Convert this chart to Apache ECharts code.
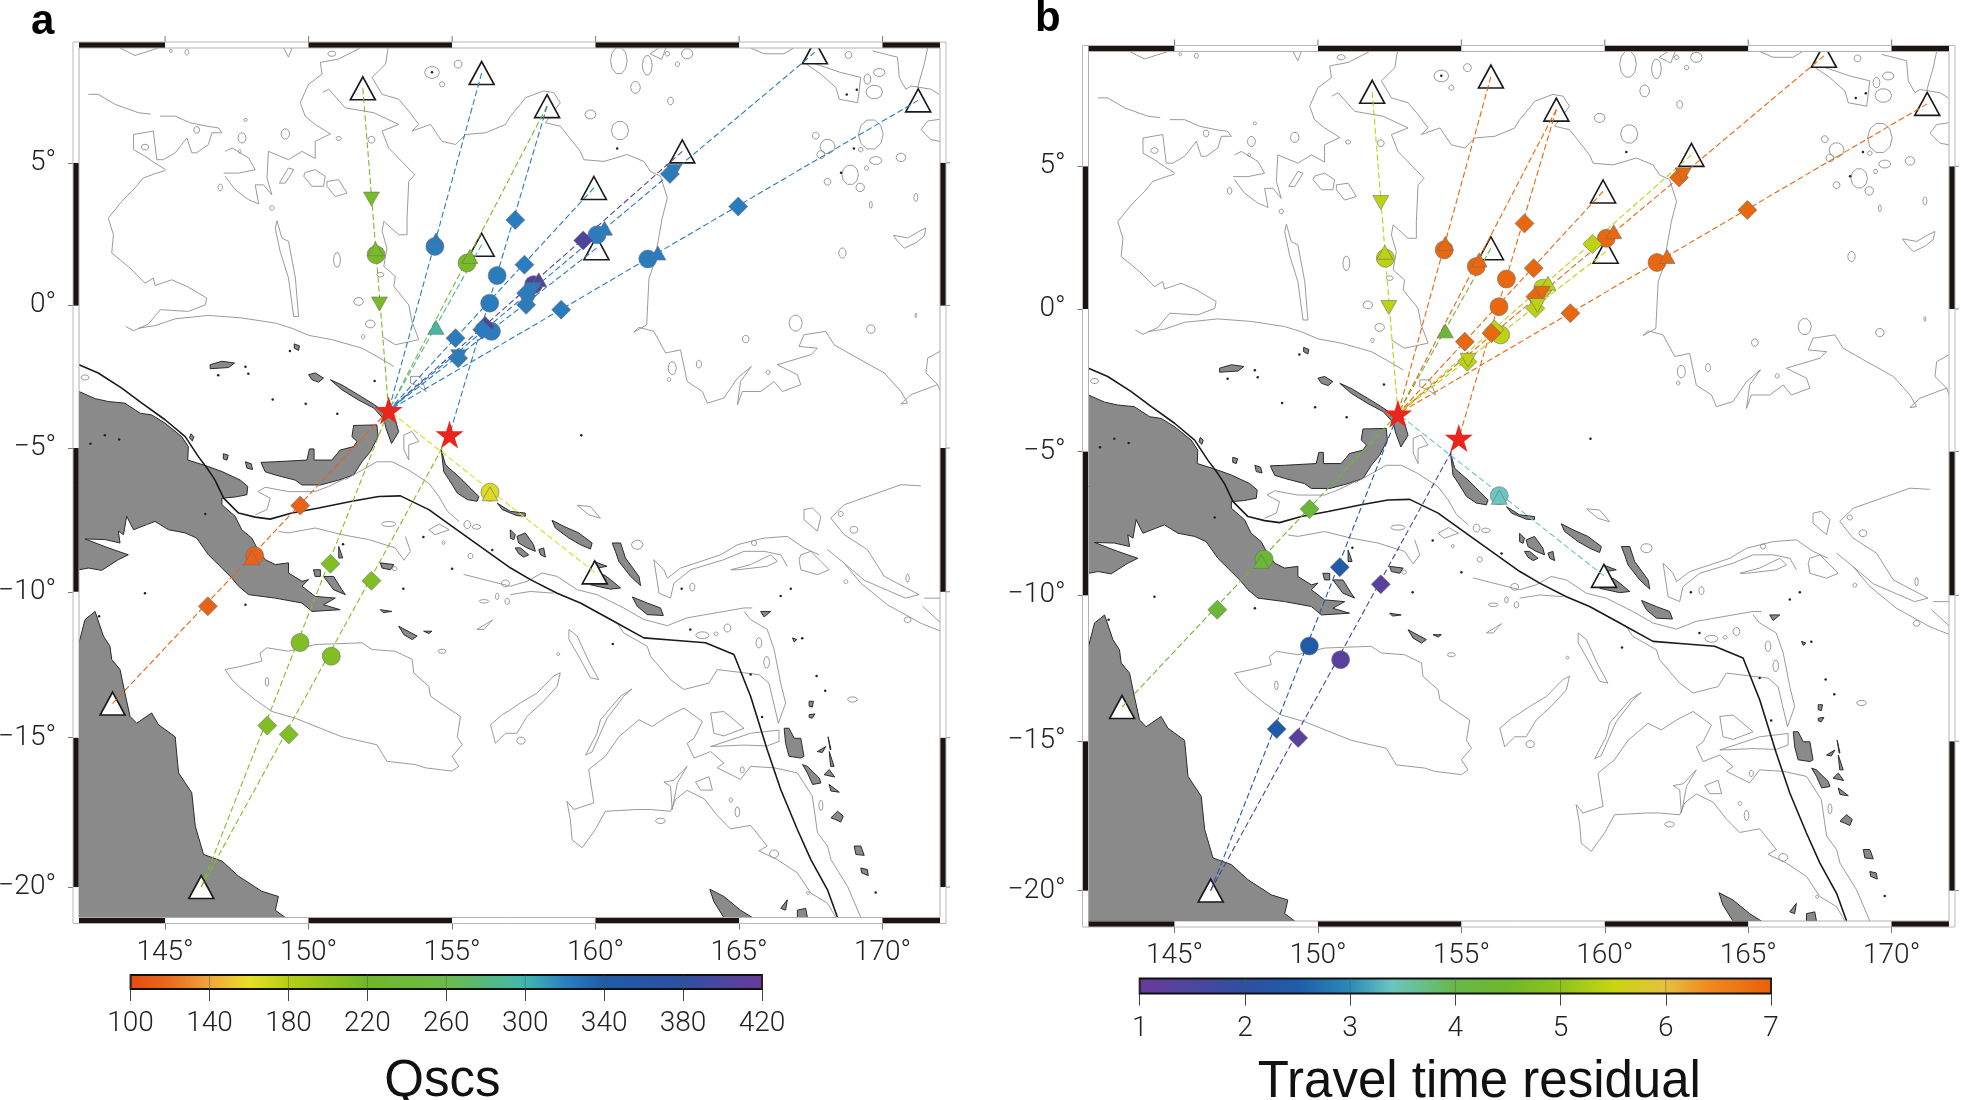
<!DOCTYPE html>
<html><head><meta charset="utf-8">
<style>html,body{margin:0;padding:0;background:#fff}#c{width:1961px;height:1100px}</style>
<script src="https://cdn.jsdelivr.net/npm/echarts@6/dist/echarts.min.js"></script>
</head><body><div id="c"></div>
<script>
// ---- stations and earthquakes (degrees) ----
const stationLon=[151.89,156.03,158.31,163.02,167.64,171.24,159.94,156.03,160.03,159.97,143.17,146.26];
const stationLat=[7.6,8.13,6.98,5.4,8.85,7.18,4.12,2.13,2.01,-9.33,-13.84,-20.0];
const starLon=[152.79,154.91];
const starLat=[-3.68,-4.53];
// ---- rays: station index, star index, Qscs, travel time residual ----
const rayStation=[0,1,2,2,3,4,5,6,7,8,9,10,11,11];
const rayStar=[0,0,0,1,0,0,0,0,0,0,0,0,0,1];
const rayQ=[215,322,215,322,400,322,322,322,295,322,165,115,210,210];
const rayRes=[5.4,6.9,6.9,6.9,5.4,6.9,6.9,6.9,4.3,5.4,3.4,4.3,2.5,1.3];
// ---- measurement markers ----
const markLon=[152.19,152.35,152.33,152.47,154.4,154.44,154.44,155.52,155.62,157.2,156.57,156.31,156.37,156.15,156.05,155.12,155.21,155.23,157.52,159.57,160.05,160.31,161.82,162.17,164.97,162.73,162.59,158.8,157.84,158.02,157.82,157.58,157.65,157.58,149.71,148.12,148.02,146.49,150.76,152.19,149.7,150.79,148.56,149.31,156.32,156.32];
const markLat=[3.73,1.78,1.99,0.05,2.07,2.3,-0.77,1.49,1.72,3.0,1.05,0.08,-0.91,-0.72,-0.85,-1.15,-1.85,-1.8,1.43,2.28,2.48,2.71,1.63,1.84,3.47,4.7,4.61,-0.15,0.73,0.9,0.55,0.43,0.12,0.02,-7.01,-8.75,-8.83,-10.5,-9.03,-9.62,-11.75,-12.22,-14.59,-14.89,-6.54,-6.6];
const markShape=['v','c','t','v','c','t','t','c','t','d','c','c','c','d','d','d','d','v','d','d','c','t','c','t','d','v','d','d','c','t','v','d','v','d','d','c','t','d','d','d','c','c','d','d','c','t'];
const markQ=[215,215,215,215,322,322,295,215,215,322,322,322,322,400,322,322,322,322,322,400,322,322,322,322,322,322,322,322,400,400,322,322,322,322,115,115,115,115,210,210,210,210,210,210,165,165];
const markRes=[5.4,5.4,5.4,5.4,6.9,6.9,4.3,6.9,6.9,6.9,6.9,6.9,5.4,5.4,6.9,6.9,5.4,5.4,6.9,5.4,6.9,6.9,6.9,6.9,6.9,6.9,6.9,6.9,5.4,5.4,6.9,6.9,5.4,5.4,4.3,4.3,4.3,4.3,2.5,1.3,2.5,1.3,2.5,1.3,3.4,3.4];
// ---- colour scales ----
const qStops=[100,120,140,160,180,220,260,300,320,340,380,420];
const qColors=['#e64a10','#ea6a1c','#efa53c','#e9de28','#b5cf12','#6fb82a','#6dba4a','#3fb7b0','#2a80c0','#1f5ba8','#2f50a0','#6a3a9a'];
const resStops=[1,2,2.5,3,3.4,4,4.5,5,5.5,6,6.4,7];
const resColors=['#6a3a9a','#2f50a0','#1f5ba8','#2a8ab8','#6cc5c0','#66b84a','#6fb82a','#8ec41c','#c8d510','#e5c040','#ef8a20','#e8600a'];
const qTicks=[100,140,180,220,260,300,340,380,420];
const resTicks=[1,2,3,4,5,6,7];
const lonTicks=[145,150,155,160,165,170];
const latTicks=[5,0,-5,-10,-15,-20];
const frameLon=[142,145,150,155,160,165,170,172];
const frameLat=[-21,-20,-15,-10,-5,0,5,9];
// ---- land outlines: flat lon,lat lists ----
const land=[
[142,-3.02,142.56,-3.27,143.02,-3.37,143.6,-3.43,144.13,-3.78,144.53,-3.84,145,-4.13,145.58,-4.6,145.81,-4.95,145.79,-5.42,146.4,-5.61,146.98,-5.82,147.62,-6.12,147.88,-6.34,147.85,-6.63,147.44,-6.71,146.98,-6.75,146.98,-6.98,147.44,-7.38,147.67,-7.85,148.02,-8.14,148.2,-8.48,148.49,-8.89,148.84,-9.06,149.3,-9,149.3,-9.35,149.77,-9.64,150,-9.58,149.77,-9.81,150.23,-10.16,150.93,-10.22,150.52,-10.45,151.1,-10.62,150.12,-10.68,149.77,-10.39,148.84,-10.22,147.91,-10.1,147.56,-9.81,147.33,-9.53,146.98,-9.18,146.51,-8.72,146.1,-8.14,145.7,-7.96,145.12,-7.85,144.65,-7.56,144.36,-7.67,143.9,-7.85,143.66,-7.38,143.55,-8.02,143.37,-7.9,143.43,-8.31,142.9,-8.19,142.21,-8.17,143.02,-8.48,143.72,-8.72,143.37,-8.89,142.79,-9.26,142.33,-9.18,142,-9.24],
[148.34,-5.5,148.84,-5.48,149.94,-5.42,150.03,-5.03,150.19,-5.03,150.19,-5.42,150.81,-5.42,151.1,-5.07,151.57,-4.95,151.69,-4.77,151.51,-4.6,151.57,-4.21,152.38,-4.19,152.42,-4.6,152.15,-5.13,151.86,-5.48,151.57,-5.94,151.05,-6.12,150.41,-6.29,149.77,-6.29,149.53,-6.12,148.84,-5.94,148.49,-5.83],
[150,-2.43,150.23,-2.37,150.52,-2.55,150.35,-2.69,150.12,-2.61],
[150.76,-2.61,151.16,-2.79,151.74,-3.14,152.21,-3.43,152.56,-3.67,153.02,-4.02,153.14,-4.43,152.89,-4.84,152.7,-4.32,152.62,-3.98,152.27,-3.6,151.74,-3.32,151.16,-2.96],
[146.57,-2.08,146.98,-1.96,147.42,-2.02,147.21,-2.18,146.57,-2.22],
[154.62,-5.04,154.77,-5.59,155.29,-6.05,155.64,-6.4,155.93,-6.69,155.87,-6.86,155.53,-6.8,155.18,-6.57,154.89,-6.1,154.71,-5.83],
[158.48,-7.52,158.89,-7.73,159.41,-7.96,159.88,-8.31,159.82,-8.52,159.47,-8.37,159.07,-8.14,158.6,-7.79],
[156.57,-6.92,157.03,-7.21,157.55,-7.27,157.55,-7.38,157.26,-7.36,156.75,-7.15],
[157.26,-8.08,157.55,-7.96,157.84,-8.37,157.9,-8.6,157.61,-8.48,157.32,-8.31],
[157.2,-8.48,157.38,-8.48,157.67,-8.72,157.5,-8.8,157.32,-8.68],
[158.02,-8.54,158.19,-8.48,158.25,-8.8,158.08,-8.72],
[157.03,-7.85,157.2,-8.02,157.15,-8.2,157.03,-8.14],
[159.65,-9.58,160.29,-9.41,160.52,-9.58,160.87,-9.87,160.52,-9.91,159.82,-9.76],
[159.94,-8.95,160.4,-9.12,160.05,-9.18],
[160.58,-8.31,160.87,-8.31,161.04,-8.83,161.51,-9.47,161.57,-9.79,161.22,-9.47,160.81,-8.95,160.69,-8.6],
[161.28,-10.18,161.8,-10.39,162.26,-10.56,162.36,-10.82,161.8,-10.79,161.45,-10.5],
[165.75,-10.68,166.1,-10.68,165.87,-10.87],
[166.57,-14.68,166.74,-14.68,166.92,-15.02,167.15,-15.02,167.26,-15.63,167.15,-15.69,166.74,-15.63,166.62,-15.19],
[167.21,-15.91,167.38,-15.97,167.79,-16.36,167.85,-16.53,167.56,-16.58,167.38,-16.19],
[167.73,-15.47,168.02,-15.3,167.9,-15.5],
[168.14,-15.47,168.31,-15.97,168.19,-15.97],
[168.1,-14.97,168.2,-15.4,168.17,-15.4],
[167.96,-16.25,168.14,-16.08,168.33,-16.33],
[168.14,-16.58,168.49,-16.84,168.2,-16.8],
[168.2,-17.7,168.43,-17.48,168.63,-17.64,168.54,-17.84,168.37,-17.76],
[169.01,-18.64,169.24,-18.64,169.36,-18.95,169.07,-18.92],
[169.24,-19.37,169.47,-19.42,169.5,-19.62,169.27,-19.53],
[167.44,-13.76,167.59,-13.76,167.55,-13.96,167.44,-13.93],
[167.44,-14.22,167.64,-14.19,167.55,-14.34,167.44,-14.31],
[166.86,-11.59,167.01,-11.65,166.92,-11.73],
[163.98,-20.07,164.47,-20.31,165.05,-20.76,165.46,-21,164.47,-21,164.12,-20.48],
[167.03,-20.76,167.32,-20.7,167.38,-21,167.03,-21],
[166.45,-20.7,166.68,-20.42,166.62,-20.76],
[142,-11.76,142.21,-10.96,142.56,-10.68,142.85,-11.53,143.08,-11.88,143.14,-12.33,143.43,-12.68,143.6,-13.48,143.78,-14.28,144.01,-14.51,144.53,-14.16,144.77,-14.56,145.35,-14.97,145.47,-16.19,145.93,-16.86,146.05,-17.97,146.34,-18.92,146.98,-19.14,147.56,-19.64,148.37,-20.14,148.95,-20.31,148.84,-20.76,149.19,-21,142,-21],
[150.17,-9.24,150.41,-9.24,150.41,-9.47,150.23,-9.47],
[150.52,-9.47,150.87,-9.47,151.16,-9.93,151.28,-10.1,150.87,-9.93],
[151.05,-8.43,151.19,-8.83,151.05,-8.83],
[152.5,-9,152.97,-9.06,152.85,-9.24,152.56,-9.18],
[153.14,-11.19,153.78,-11.53,153.61,-11.65,153.32,-11.48],
[154.01,-11.36,154.3,-11.36,154.19,-11.44],
[152.5,-10.62,152.9,-10.68,152.6,-10.72],
[145.9,-4.5,146,-4.6,145.95,-4.75,145.85,-4.65],
[147.03,-5.2,147.2,-5.25,147.15,-5.42,147.03,-5.38],
[147.8,-5.48,148,-5.55,148.05,-5.75,147.85,-5.7],
[149.5,-1.35,149.68,-1.42,149.65,-1.58,149.5,-1.5]
];
// ---- plate boundary ----
const plateBoundary=[142,-2.08,142.67,-2.37,143.49,-2.9,144.19,-3.43,145,-4.01,145.7,-4.6,146.16,-5.3,146.51,-5.77,146.74,-6.12,147.04,-6.75,147.56,-7.27,148.14,-7.41,148.66,-7.48,149.42,-7.27,150.35,-7.09,151.51,-6.86,152.44,-6.69,153.2,-6.67,154.19,-7.15,155,-7.73,156.05,-8.48,157.04,-9.18,157.73,-9.58,158.66,-10.05,159.47,-10.39,160.52,-10.96,161.68,-11.59,162.73,-11.67,163.83,-11.76,164.82,-12.16,165.4,-13.59,165.98,-15.41,166.45,-16.75,167.03,-18.09,167.5,-19.09,168.08,-20.09,168.43,-21];
// ---- open depth contours ----
const contours=[
[145,4.73,144.71,4.64,144.24,4.47,143.95,4.12,143.49,3.65,143.02,3.06,143.2,2.48,143.14,1.84,143.78,1.31,144.3,0.78,144.59,0.96,144.65,0.7,145.23,0.9,145.76,0.67,146.45,0.26,146.4,0.02,145.81,-0.21,144.83,-0.15,144.42,-0.65,143.9,-0.89,143.63,-0.74],
[144.07,-0.8,144.65,-0.71,145.35,-0.47,146.51,-0.35,147.68,-0.44,148.84,-0.62,149.42,-0.8,150,-1.05,150.81,-1.2,151.86,-1.5,152.38,-1.79,152.97,-2.14],
[142.33,7.39,142.67,7.39,143.26,7.04,144.07,6.75,144.5,6.7],
[144.83,6.63,145.35,6.63,145.87,6.4,146.45,6.28,146.86,6.22,146.98,6.05,146.63,6.05,146.51,5.64,146.1,5.35,145.93,5.35,145.76,5.87,145.35,5.35,144.94,5.11,144.71,5.11,144.59,6.11,143.9,5.99,143.9,5.46,144.3,5.23,144.65,4.99,145.02,4.76],
[147.04,4.64,147.56,4.64,148.14,4.76,147.91,5.17,147.33,5.52,147.09,5.4],
[147.09,4.53,147.44,4.06,147.91,3.71,148.26,3.56,148.14,4.23,148.43,4.23,148.72,3.88,148.55,4.47,148.6,5.4,149.3,5.11,149.77,5.4,150.23,5.15,150.23,5.75,150.76,6.01,150.23,6.34,149.88,6.63,149.71,7.1,150,7.74,150.47,8.09,150.41,8.5,151.05,8.62,151.8,9],
[150.49,7.45,150.7,7.57,151.28,6.92,152.27,6.75,153.14,6.34,152.56,6.11,152.79,5.52,153.7,4.58,153.49,4.35,153.43,3.06,153.43,2.48,153.14,2.48,152.62,2.95,152.56,2.6,152.73,2.01,152.62,1.37,153.02,1.02,152.97,0.67,153.49,0.02,153.6,-0.56,153.84,-1.2,153.02,-1.38,152.56,-1.09],
[152.77,9,152.68,8.44,152.21,7.98,152.56,7.39,153.14,7.22,153.49,6.81,153.84,6.34,153.6,6.11,154.25,6.34,154.65,5.75,155.12,5.64,155.47,5.99,156.17,6.05,156.86,6.34,157.03,6.63,157.38,7.04,157.55,7.27,158.19,7.51,158.54,7.45,158.77,7.1,158.25,6.4,158.77,6.28,159.47,5.4,159.59,5.11,160.29,5.05,161.1,5.29,161.68,5.05,161.91,4.7,162.26,4.53,162.5,3.77,162.32,3.06,162.03,1.43,161.86,0.96,161.78,-0.68,161.33,-0.94,161.51,-0.77,162.03,-0.91,162.44,-1.67,162.96,-1.56,163.19,-2.67,163.72,-3.02,163.89,-3.43,164.47,-3.25,164.94,-2.55,165.43,-2.14,165.05,-2.67,164.94,-3.49,165.11,-3.02,165.75,-3.02,166.22,-2.67,166.51,-3.02,167.15,-2.78,167.03,-2.43,166.33,-2.08,167.5,-1.73,167.73,-1.5,167.09,-1.44,167.26,-1.03,168.02,-0.91,168.31,-1.38,169.13,-1.85,170.06,-2.37,170.64,-3.02,170.87,-3.43,170.64,-3.46,170.99,-3.13,171.92,-2.78],
[172,-1.61,171.57,-1.85,171.51,-2.37,171.92,-2.78,172,-3],
[165.4,9,165.87,8.8,166.56,8.8,166.9,9],
[167.26,8.5,167.85,8.09,168.37,7.63,168.49,7.22,169.13,7.1,169.24,7.98,168.54,8.15,168.02,8.33,167.5,8.5],
[171.99,6.52,171.57,6.46,171.34,6.16,171.68,5.81,172,5.75],
[171.57,9,171.45,8.44,171.22,7.63],
[169.65,8.9,170.52,8.68,170.58,7.98,170.81,7.57,170.99,7.68,171.68,7.57,171.97,7.39],
[149.13,9,149.3,8.68,149.42,9],
[143.43,9,143.95,8.74,144.77,9],
[162.45,9,162.3,8.6,161.9,8.8,162.2,9],
[151.28,-6.06,150.7,-6.34,150.23,-6.52,149.3,-6.52,148.49,-6.37,148.23,-6.52,148.66,-6.75,148.55,-7.15,148.14,-7.33],
[148.95,-7.91,149.3,-7.96,150.23,-7.79,151.16,-8.02,152.09,-8.19,153.02,-8.48,153.32,-8.91,153.55,-8.6,153.37,-8.08],
[151.28,-6.1,152.38,-5.48,152.91,-5.48,153.49,-5.77,154.19,-6.23,154.54,-6.69,154.83,-7.2,155.24,-7.56],
[153.32,-4.54,153.6,-4.42,153.84,-4.77,153.49,-4.89,153.49,-5.42,153.32,-5.05,153.32,-4.54],
[157.03,-10.1,157.73,-9.99,158.54,-10.05],
[155.4,-9.4,156,-9.55,157.03,-9.81,157.61,-9.64,158.13,-9.35,158.66,-9.47,159.36,-9.93,160.05,-10.1,160.98,-10.56,161.68,-10.96,162.5,-11.17,163.19,-10.9,164.47,-10.68,165.17,-10.56,165.46,-10.56],
[165.17,-10.68,165.4,-10.96,165.98,-11.3,166.22,-11.99,166.45,-13.14,166.62,-13.82,166.37,-14.51,166.04,-13.14,165.69,-12.85,164.24,-12.68,163.95,-13.14,163.08,-13.36,162.61,-13.02,161.91,-12.22,161.8,-11.88,160.98,-11.42,160.75,-11.08],
[162.03,-8.89,162.38,-9.24,162.5,-9.53,162.96,-9.18,164.36,-8.72,164.94,-8.37,165.87,-8.14,166.68,-8.08,167.26,-8.48,167.79,-8.72],
[162.03,-8.89,162.21,-10.05,162.61,-10.22,162.73,-9.7,163.31,-9.24,164.47,-8.89,165.17,-8.6,165.87,-8.6,166.45,-8.72,166.68,-9.12],
[168.08,-8.54,168.66,-9.01,169.24,-9.7,170.17,-10.45,171.34,-11.09,172.03,-11.36],
[171.33,-6.32,170.64,-6.28,169.82,-6.57,168.66,-6.98,168.19,-7.44,168.66,-8.02,169.47,-8.54,170.06,-9.47,171.27,-10.1,170.8,-10.22,170.17,-9.95,169.36,-9.6,168.66,-9.01],
[167.26,-7.15,167.55,-7.09,167.85,-7.38,167.73,-7.9,167.26,-7.5,167.26,-7.15],
[171.45,-10.22,172.03,-10.22],
[171.39,-10.5,172.03,-11.08],
[164.71,-9.24,165.4,-9.06,166.1,-8.72,166.33,-8.95,165.98,-9.12,164.94,-9.24,164.71,-9.24],
[167.15,-8.72,167.5,-8.6,167.85,-8.95,168.14,-9.24,167.73,-9.41,167.15,-9.24,167.09,-8.89,167.15,-8.72],
[159,-17.14,159.24,-17.42,159.94,-17.2,159.76,-16.08,160.34,-15.63,160.81,-14.97,161.51,-14.39,161.97,-14.62,162.5,-14.28,163.08,-13.99,163.72,-14.45,163.43,-15.02,163.19,-15.19,163.43,-15.69,164.01,-15.47,164.47,-15.86,164.24,-16.02,165.05,-16.41,165.4,-15.97,166.22,-16.02,167.03,-16.19,167.55,-16.97,167.73,-18.19,168.08,-18.64,168.2,-19.09,168.78,-19.98,169.24,-21],
[159,-17.14,159.12,-17.76,159.18,-18.43,159.53,-18.7,159.99,-18.09,160.34,-17.48,161.45,-17.42,161.91,-17.42,162.61,-17.48,162.79,-17.08,163.19,-16.78,163.78,-17.06,164.24,-17.62,164.7,-18.07,165.4,-17.95,165.98,-18.64,165.69,-18.8,166.33,-19.09,167.03,-19.53,167.5,-20.2,168.08,-20.53,168.37,-21],
[159.65,-15.59,160.05,-14.85,160.17,-14.39,160.87,-13.59,161.27,-13.34,160.98,-13.59,160.4,-14.34,160.11,-14.97,159.88,-15.48,159.65,-15.59],
[159.07,-11.3,159.36,-11.53,159.76,-12.39,160.11,-13.02,159.82,-12.96,159.41,-12.22,159.07,-11.64,159.07,-11.3],
[156.34,-14.56,156.51,-15.19,156.86,-14.85,157.26,-14.85,157.61,-14.28,158.19,-13.76,158.66,-13.25,158.77,-12.79,158.54,-12.9,157.96,-13.48,157.38,-13.82,157.03,-14.05,156.75,-14.22,156.34,-14.56],
[164.01,-14.16,164.47,-14.11,165.17,-14.68,164.47,-14.94,164.12,-14.85,164.01,-14.16],
[164.01,-15.3,165.4,-14.85,166.39,-14.74,166.39,-15.13,165.98,-15.28,165.17,-15.25,164.01,-15.3],
[162.38,-16.5,162.73,-16.44,163.19,-15.97,162.85,-16.53,162.67,-17.42,162.61,-16.64,162.38,-16.5],
[163.48,-16.5,163.95,-16.32,164.07,-16.77,163.66,-16.77,163.48,-16.5],
[147.09,-12.68,147.68,-12.56,148.37,-12.39,148.31,-12.11,148.55,-11.93,149.3,-12.05,150.23,-11.82,151.86,-11.76,152.21,-11.99,153.02,-12.05,153.61,-12.33,153.66,-12.79,154.19,-13.25,154.25,-13.59,155.29,-14.28,155.18,-14.97,155.35,-15.24,155,-15.63,155.23,-15.97,155,-16.13,154.07,-16.02,153.72,-15.91,152.73,-15.8,152.38,-15.24,151.16,-14.97,149.54,-14.34,148.72,-14.11,148.14,-13.71,147.56,-13.25,147.33,-13.02,147.09,-12.68],
[155.87,-11.3,156.4,-10.98,156.11,-11.3,155.87,-11.3],
[159.36,-7,159.82,-7.04,160.17,-7.45,159.76,-7.33,159.36,-7],
[170.38,2.46,170.87,2.37,171.27,2.6,171.51,2.72,171.45,2.43,171.16,2.2,170.76,2.01,170.52,2.25,170.38,2.46],
[148.9,2.97,149.07,2.36,149.3,2.25,149.54,0.96,149.65,-0.39,149.48,-0.39,149.3,0.96,149.01,1.89,148.84,2.71,148.9,2.97],
[149.88,4.66,150.23,4.76,150.58,4.53,150.52,4.18,150.12,4.18,149.83,4.53,149.88,4.66],
[150.64,4.35,151.05,4.41,151.34,3.94,150.93,3.82,150.64,4.18,150.64,4.35],
[148.98,4.29,149.3,4.82,149.48,4.76,149.19,4.29,148.98,4.29],
[153.55,-2.49,153.9,-2.49,154.1,-3.02,153.84,-2.84,153.55,-2.73,153.55,-2.49],
[154.19,-7.85,154.55,-7.65,154.9,-7.85,154.4,-8.02,154.19,-7.85]
];
// ---- small round shoals: lon, lat, half width, half height ----
const shoals=[
[160.81,8.56,.29,.47],[161.39,7.63,.17,.21],[161.8,8.4,.17,.35],[162.5,8.8,.08,.08],[162.85,8.44,.08,.08],[163.19,8.8,.2,.18],[162.61,7.16,.1,.14],[159.82,6.69,.19,.16],[160.85,6.13,.3,.33],[169.88,8.15,.2,.14],[169.47,7.92,.12,.18],[169.71,7.47,.29,.24],[168.81,8.76,.12,.12],[169.59,5.99,.43,.53],[168.08,5.57,.26,.26],[167.67,5.95,.12,.12],[167.85,5.29,.14,.14],[169.24,5.46,.08,.08],[169.76,5.08,.21,.14],[170.64,5.19,.17,.15],[169.44,4.82,.07,.08],[168.87,4.58,.29,.35],[169.22,4.14,.15,.15],[168.08,4.34,.12,.12],[171.16,3.79,.07,.14],[169.59,3.53,.05,.12],[168.6,1.84,.13,.18],[166.97,-0.62,.23,.29],[169.59,-0.83,.15,.15],[165.23,-1.18,.12,.13],[163.6,-2.06,.09,.14],[162.67,-2.2,.14,.23],[162.56,-2.6,.06,.07],[166.01,-2.35,.07,.08],[171.16,-0.35,.03,.08],
[149.19,6.01,.15,.18],[147.68,5.87,.14,.18],[146.92,4.14,.08,.12],[148.72,3.42,.08,.08],[150.99,1.6,.12,.26],[151.74,0.14,.17,.14],[152.15,-0.65,.17,.14],[152.19,5.81,.12,.12],[151.05,5.85,.09,.07],[152.5,1.08,.12,.08],[154.3,8.15,.26,.21],[155.21,8.44,.14,.14],[154.65,7.74,.09,.09],[150.81,8.8,.14,.09],[145.76,8.85,.07,.09],[145.2,8.9,.05,.05],[142.21,-2.53,.14,.09],[146.1,6.15,.1,.12],[144.3,5.55,.13,.1],[147.6,5.4,.05,.06],[147.8,6.5,.06,.05],[151.9,-1.1,.06,.08],
[165.69,-11.76,.1,.18],[165.96,-12.43,.1,.2],[164.59,-11.25,.12,.14],[163.72,-11.5,.23,.12],[164.2,-11.45,.07,.06],[161.45,-8.37,.2,.16],[163.37,-9.84,.09,.14],[170.87,-9.53,.06,.14],[170.87,-10.97,.12,.1],[168.95,-13.7,.17,.09],[167.85,-17.28,.07,.17],[164.94,-17.5,.08,.17],[164.71,-17.1,.06,.07],[166.22,-18.9,.16,.13],[165.11,-16.09,.07,.11],[162.26,-17.8,.17,.09],[169,-7.85,.14,.12],[168.72,-9.65,.07,.07],[168.54,-7.3,.09,.09],[165.52,-8.31,.09,.09],[167.4,-20.2,.05,.05],
[155.53,-7.67,.12,.14],[155.85,-7.75,.15,.08],[155.64,-8.76,.09,.09],[156.86,-9.71,.14,.12],[156.92,-10.33,.08,.11],[156.11,-10.33,.17,.06],[156.57,-10.16,.06,.11],[154.65,-12.05,.14,.07],[152.79,-7.65,.25,.09],[153,-9.2,.08,.07],[154.7,-8.3,.05,.06],[157.4,-15.1,.15,.12],[148.55,-13.1,.06,.15],[158.7,-12.15,.05,.05]
];
// ---- islets too small to outline ----
const isletLon=[147.8,146.85,149.35,148.75,149.9,147.9,151,152.3,154.3,168.55,169.0,169.1,168.75,160.75,159.5,160.6,163.3,166.45,166.8,167.7,165.4,167.2,168.0,169.76,165.8,163.0,142.9,143.4,142.4,144.3,142.7,147.8,146.4,151.2,152.3,153.3,154.0,155.0,156.4];
const isletLat=[-2.15,-2.45,-1.6,-3.3,-3.45,-2.4,-3.8,-2.65,8.16,4.65,5.5,7.55,7.38,5.5,-4.55,-11.8,-11.3,-10.15,-9.9,-12.9,-12.85,-11.6,-13.4,-20.18,-14.3,-9.9,-4.55,-4.7,-4.85,-10.05,-10.85,-10.45,-7.3,-8.35,-9.7,-9.9,-8.1,-9.2,-8.55];

// ---- helpers ----
const merc=lat=>Math.log(Math.tan(Math.PI/4+lat*Math.PI/360))*180/Math.PI;
const hexToRgb=h=>[1,3,5].map(i=>parseInt(h.slice(i,i+2),16));
function scale(stops,colors,v){
  let i=0; while(i<stops.length-2&&v>stops[i+1]) i++;
  const t=Math.max(0,Math.min(1,(v-stops[i])/(stops[i+1]-stops[i])));
  const a=hexToRgb(colors[i]),b=hexToRgb(colors[i+1]);
  return 'rgb('+a.map((x,k)=>Math.round(x+(b[k]-x)*t)).join(',')+')';
}
const shoalOutlines=shoals.map(s=>{const o=[];for(let k=0;k<=10;k++){const t=k/10*2*Math.PI;o.push(s[0]+s[2]*Math.cos(t),s[1]+s[3]*Math.sin(t));}return o;});
const allContours=contours.concat(shoalOutlines);
const STAR='path://M50 0 L61.8 36.3 L100 36.3 L69.1 58.8 L80.9 95.1 L50 72.7 L19.1 95.1 L30.9 58.8 L0 36.3 L38.2 36.3 Z';
const FONT='"Liberation Sans",Arial,sans-serif';
const TEXT={fontFamily:'Roboto,"Liberation Sans",sans-serif',fontWeight:300,fontSize:28,color:'#222'};

function polySeries(grid,list,closed,style,z){
  return {type:'custom',xAxisIndex:grid,yAxisIndex:grid,z,silent:true,clip:false,
    data:list.map((_,i)=>[i,0]),
    renderItem(p,api){
      const raw=list[api.value(0)],pts=[];
      for(let i=0;i<raw.length;i+=2) pts.push(api.coord([raw[i],merc(raw[i+1])]));
      return {type:closed?'polygon':'polyline',shape:{points:pts},style:Object.assign({},style),silent:true};
    }};
}
function frameSeries(grid){
  const segs=[];
  frameLon.slice(0,-1).forEach((a,i)=>{segs.push([0,a,frameLon[i+1],i%2==0?1:0]);segs.push([1,a,frameLon[i+1],i%2==0?1:0]);});
  frameLat.slice(0,-1).forEach((a,i)=>{const black=(i%2==1)?1:0;segs.push([2,a,frameLat[i+1],black]);segs.push([3,a,frameLat[i+1],black]);});
  const B=6;
  return {type:'custom',xAxisIndex:grid,yAxisIndex:grid,z:20,silent:true,clip:false,
    data:segs,
    renderItem(p,api){
      const side=api.value(0),a=api.value(1),b=api.value(2),fill=api.value(3)?'#1d1412':'#ffffff';
      const tl=api.coord([142,merc(9)]),br=api.coord([172,merc(-21)]);
      let r;
      if(side<2){const x0=api.coord([a,merc(9)])[0],x1=api.coord([b,merc(9)])[0];
        r=side==0?{x:x0,y:tl[1]-B,width:x1-x0,height:B}:{x:x0,y:br[1],width:x1-x0,height:B};}
      else{const y0=api.coord([142,merc(b)])[1],y1=api.coord([142,merc(a)])[1];
        r=side==2?{x:tl[0]-B,y:y0,width:B,height:y1-y0}:{x:br[0],y:y0,width:B,height:y1-y0};}
      const kids=[];
      if(p.dataIndex==0){
        // white margin that trims marks overflowing the top of the map
        kids.push({type:'rect',shape:{x:tl[0]-B,y:tl[1]-B-12,width:br[0]-tl[0]+2*B,height:12},style:{fill:'#fff',stroke:null}});
        lonTicks.forEach(t=>{const x=api.coord([t,merc(9)])[0];kids.push({type:'line',shape:{x1:x,y1:tl[1]-B-6,x2:x,y2:tl[1]},style:{stroke:'#777',lineWidth:1}});});
        latTicks.forEach(t=>{const y=api.coord([142,merc(t)])[1];kids.push({type:'line',shape:{x1:br[0],y1:y,x2:br[0]+B+4,y2:y},style:{stroke:'#888',lineWidth:1}});});
      }
      kids.push({type:'rect',shape:r,style:{fill,stroke:null}});
      if(p.dataIndex==segs.length-1){
        kids.push({type:'rect',shape:{x:tl[0],y:tl[1],width:br[0]-tl[0],height:br[1]-tl[1]},style:{fill:null,stroke:'#b0b0b0',lineWidth:1}});
        kids.push({type:'rect',shape:{x:tl[0]-B,y:tl[1]-B,width:br[0]-tl[0]+2*B,height:br[1]-tl[1]+2*B},style:{fill:null,stroke:'#b8b8b8',lineWidth:1}});
      }
      return {type:'group',children:kids,silent:true};
    }};
}
function markerSeries(grid,shape,values,stops,colors,z){
  const spec={c:{symbol:'circle',size:18,rot:0},d:{symbol:'diamond',size:19,rot:0},t:{symbol:'triangle',size:[16,14],rot:0},v:{symbol:'triangle',size:[16,14],rot:180}}[shape];
  const data=[];
  markLon.forEach((lon,i)=>{ if(markShape[i]==shape) data.push({value:[lon,merc(markLat[i])],itemStyle:{color:scale(stops,colors,values[i]),opacity:1}}); });
  return {type:'scatter',xAxisIndex:grid,yAxisIndex:grid,z,symbol:spec.symbol,symbolSize:spec.size,symbolRotate:spec.rot,silent:true,
    itemStyle:{borderColor:'#6f6f6f',borderWidth:0.6,opacity:1},data};
}
function panel(grid,rayVals,markVals,stops,colors){
  const s=[];
  s.push(polySeries(grid,land,true,{fill:'#8a8a8a',stroke:'#2b2b2b',lineWidth:1},2));
  s.push(polySeries(grid,allContours,false,{fill:null,stroke:'#8e8e8e',lineWidth:0.9},3));
  s.push({type:'scatter',xAxisIndex:grid,yAxisIndex:grid,z:3,symbol:'circle',symbolSize:2.5,silent:true,itemStyle:{color:'#222',opacity:1},
    data:isletLon.map((x,i)=>[x,merc(isletLat[i])])});
  s.push({type:'line',xAxisIndex:grid,yAxisIndex:grid,z:4,silent:true,showSymbol:false,symbol:'none',lineStyle:{color:'#1a1a1a',width:1.6},
    data:plateBoundary.reduce((o,v,i,a)=>{if(i%2==0)o.push([v,merc(a[i+1])]);return o;},[])});
  s.push({type:'scatter',xAxisIndex:grid,yAxisIndex:grid,z:5,symbol:'triangle',symbolSize:[25,23],silent:true,
    itemStyle:{color:'#fff',borderColor:'#1a1a1a',borderWidth:1.6,opacity:1},
    data:stationLon.map((x,i)=>[x,merc(stationLat[i])])});
  rayStation.forEach((st,i)=>{
    s.push({type:'line',xAxisIndex:grid,yAxisIndex:grid,z:6,silent:true,showSymbol:false,symbol:'none',
      lineStyle:{color:scale(stops,colors,rayVals[i]),width:1.1,type:[6,3]},
      data:[[stationLon[st],merc(stationLat[st])],[starLon[rayStar[i]],merc(starLat[rayStar[i]])]]});
  });
  s.push(markerSeries(grid,'c',markVals,stops,colors,7));
  s.push(markerSeries(grid,'d',markVals,stops,colors,8));
  s.push(markerSeries(grid,'t',markVals,stops,colors,9));
  s.push(markerSeries(grid,'v',markVals,stops,colors,9));
  s.push({type:'scatter',xAxisIndex:grid,yAxisIndex:grid,z:10,symbol:STAR,symbolSize:28,silent:true,
    itemStyle:{color:'#e8261c',opacity:1},data:starLon.map((x,i)=>[x,merc(starLat[i])])});
  s.push(frameSeries(grid));
  return s;
}
function barSeries(grid,min,max,stops,colors,ticks){
  const grad=stops.map((v,i)=>({offset:(v-min)/(max-min),color:colors[i]}));
  return [{type:'custom',xAxisIndex:grid,yAxisIndex:grid,z:5,silent:true,clip:false,
    data:[[min,0]],
    renderItem(p,api){
      const a=api.coord([min,1]),b=api.coord([max,0]);
      const kids=[{type:'rect',shape:{x:a[0],y:a[1],width:b[0]-a[0],height:b[1]-a[1]},
        style:{fill:new echarts.graphic.LinearGradient(0,0,1,0,grad),stroke:'#111',lineWidth:2}}];
      ticks.forEach(t=>{const x=api.coord([t,0])[0];kids.push({type:'line',shape:{x1:x,y1:a[1],x2:x,y2:b[1]},style:{stroke:'#555',lineWidth:0.7,opacity:.7}});});
      return {type:'group',children:kids,silent:true};
    }}];
}
function mapX(grid){return {type:'value',gridIndex:grid,min:142,max:172,splitLine:{show:false},axisLine:{show:false,onZero:false},
  axisTick:{show:true,length:12,customValues:lonTicks,lineStyle:{color:'#777',width:1}},
  axisLabel:Object.assign({},TEXT,{customValues:lonTicks,margin:21,formatter:v=>v+'°'})};}
function mapY(grid){const ticks=latTicks.map(merc);return {type:'value',gridIndex:grid,min:merc(-21),max:merc(9),splitLine:{show:false},axisLine:{show:false,onZero:false},
  axisTick:{show:true,length:11,customValues:ticks,lineStyle:{color:'#777',width:1}},
  axisLabel:Object.assign({},TEXT,{customValues:ticks,margin:23,formatter:v=>{const lat=latTicks[ticks.findIndex(t=>Math.abs(t-v)<1e-6)];return (lat<0?'−'+(-lat):lat)+'°';}})};}
function barX(grid,min,max,ticks,name,gap,pad){return {type:'value',gridIndex:grid,min,max,position:'bottom',splitLine:{show:false},axisLine:{show:false,onZero:false},
  axisTick:{show:true,length:12,customValues:ticks,lineStyle:{color:'#444',width:1}},
  axisLabel:Object.assign({},TEXT,{customValues:ticks,margin:21}),
  name,nameLocation:'middle',nameGap:gap,nameTextStyle:{fontFamily:FONT,fontSize:51,color:'#111',padding:pad}};}
function barY(grid){return {type:'value',gridIndex:grid,min:0,max:1,show:false};}

const chart=echarts.init(document.getElementById('c'),null,{renderer:'canvas'});
chart.setOption({
  animation:false,backgroundColor:'#fff',
  title:[
    {text:'a',left:26,top:-4,textStyle:{fontFamily:FONT,fontWeight:'bold',fontSize:42,color:'#000'}},
    {text:'b',left:1030,top:-7,textStyle:{fontFamily:FONT,fontWeight:'bold',fontSize:42,color:'#000'}}
  ],
  grid:[
    {left:79,top:48,width:861,height:869.5,outerBoundsMode:'none'},
    {left:1088.5,top:51.5,width:860.5,height:869.5,outerBoundsMode:'none'},
    {left:130.6,top:975,width:631.4,height:14,outerBoundsMode:'none'},
    {left:1139.7,top:978.6,width:631.3,height:15,outerBoundsMode:'none'}
  ],
  xAxis:[mapX(0),mapX(1),barX(2,100,420,qTicks,'Qscs',67,[0,8,0,0]),barX(3,1,7,resTicks,'Travel time residual',64,[0,0,0,48])],
  yAxis:[mapY(0),mapY(1),barY(2),barY(3)],
  series:[].concat(
    panel(0,rayQ,markQ,qStops,qColors),
    panel(1,rayRes,markRes,resStops,resColors),
    barSeries(2,100,420,qStops,qColors,qTicks),
    barSeries(3,1,7,resStops,resColors,resTicks)
  )
});
</script></body></html>
